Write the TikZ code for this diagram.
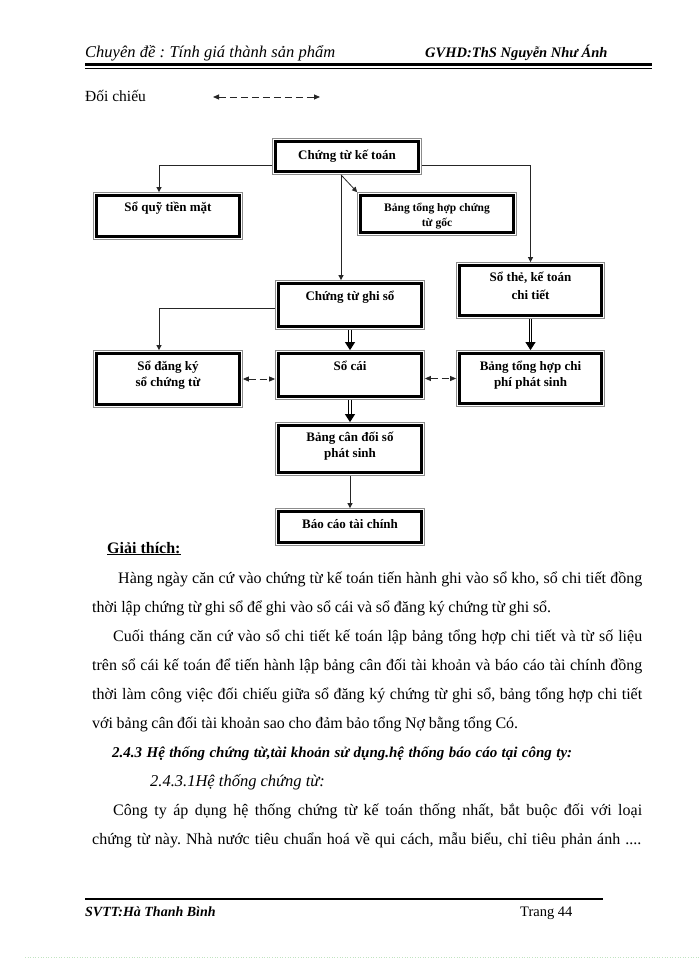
\documentclass[tikz,border=0pt]{standalone}
\usepackage{fontspec}
\setmainfont{Liberation Serif}
\usetikzlibrary{arrows.meta, positioning}
\frenchspacing

\tikzset{
    khung/.style={draw=black, line width=2.8pt, fill=white, outer sep=3.4pt,
        preaction={draw=black!45, line width=6.8pt},
        preaction={draw=white, line width=5.2pt}},
    nhan/.style={anchor=base, font=\fontsize{13}{15}\selectfont\bfseries, inner sep=0pt},
    nhannho/.style={anchor=base, font=\fontsize{11.5}{14}\selectfont\bfseries, inner sep=0pt},
    muiten/.style={draw=black!85, line width=0.8pt, -{Triangle[length=5pt, width=5pt]}},
    muitendoi/.style={draw=black, line width=0.9pt, double=white, double distance=1.4pt,
        -{Triangle[length=8pt, width=10pt]}},
    doichieu/.style={draw=black!85, line width=0.8pt, dash pattern=on 7pt off 4pt,
        {Triangle[length=6pt, width=5pt]}-{Triangle[length=6pt, width=5pt]}},
    dong/.style={anchor=base west, inner sep=0pt, font=\fontsize{16}{19}\selectfont}
}

\begin{document}
\begin{tikzpicture}[x=1pt, y=-1pt]
    \fill[white] (0,0) rectangle (700,960);
    \useasboundingbox (0,0) rectangle (700,960);

    % header and footer
    \node[anchor=base west, inner sep=0pt, font=\fontsize{16.5}{19}\selectfont\itshape] (chuyende) at (85,58)
        {\makebox[250pt][s]{Chuyên đề : Tính giá thành sản phẩm}};
    \node[anchor=base west, inner sep=0pt, font=\fontsize{14.5}{17}\selectfont\bfseries\itshape] (gvhd) at (425,58)
        {GVHD:ThS Nguyễn Như Ánh};
    \draw[line width=2.5pt] (85,64.5) -- (652,64.5);
    \draw[line width=0.7pt] (85,68) -- (652,68);
    \draw[line width=2.5pt] (85,899) -- (603,899);
    \node[anchor=base west, inner sep=0pt, font=\fontsize{14}{17}\selectfont\bfseries\itshape] (svtt) at (85,916)
        {SVTT:Hà Thanh Bình};
    \node[anchor=base west, inner sep=0pt, font=\fontsize{14.5}{17}\selectfont] (trang) at (520,916) {Trang 44};
    \draw[green!40!gray!35, line width=0.6pt, dotted] (25,957) -- (700,957);

    % chu thich
    \node[anchor=base west, inner sep=0pt, font=\fontsize{15.5}{18}\selectfont] (dc) at (85,102) {Đối chiếu};
    \coordinate (dcA) at (213,97);
    \coordinate (dcB) at (320,97);
    \draw[doichieu] (dcA) -- (dcB);

    % cac so, chung tu
    \node[khung, minimum width=143pt, minimum height=30pt,
        label={[nhan, yshift=-21.5pt]north:Chứng từ kế toán}] (ctkt) at (347,156.5) {};
    \node[khung, minimum width=143pt, minimum height=41pt,
        label={[nhan, yshift=-19.5pt]north:Sổ quỹ tiền mặt}] (sq) at (168,216) {};
    \node[khung, minimum width=153pt, minimum height=37pt,
        label={[nhannho, yshift=-19.5pt]north:Bảng tổng hợp chứng},
        label={[nhannho, yshift=-34.5pt]north:từ gốc}] (bthg) at (437,214) {};
    \node[khung, minimum width=142pt, minimum height=50pt,
        label={[nhan, yshift=-19.5pt]north:{Sổ thẻ, kế toán}},
        label={[nhan, yshift=-37.5pt]north:chi tiết}] (sthe) at (530.5,290.5) {};
    \node[khung, minimum width=143pt, minimum height=43pt,
        label={[nhan, yshift=-20.5pt]north:Chứng từ ghi sổ}] (ctgs) at (350,305) {};
    \node[khung, minimum width=143pt, minimum height=51pt,
        label={[nhan, yshift=-20.5pt]north:Sổ đăng ký},
        label={[nhan, yshift=-36.5pt]north:sổ chứng từ}] (sdk) at (168,379) {};
    \node[khung, minimum width=143pt, minimum height=43pt,
        label={[nhan, yshift=-20.5pt]north:Sổ cái}] (scai) at (350,375) {};
    \node[khung, minimum width=142pt, minimum height=50pt,
        label={[nhan, yshift=-20.5pt]north:Bảng tổng hợp chi},
        label={[nhan, yshift=-36.5pt]north:phí phát sinh}] (bthcp) at (530.5,378.5) {};
    \node[khung, minimum width=143pt, minimum height=47pt,
        label={[nhan, yshift=-19.5pt]north:Bảng cân đối số},
        label={[nhan, yshift=-35.5pt]north:phát sinh}] (bcd) at (350,449) {};
    \node[khung, minimum width=143pt, minimum height=31pt,
        label={[nhan, yshift=-20.5pt]north:Báo cáo tài chính}] (bctc) at (350,527) {};

    \draw[muiten] ([yshift=-8.5pt]ctkt.west) -| ([xshift=-9pt]sq.north);
    \draw[muiten] ([yshift=-8.5pt]ctkt.east) -| (sthe.north);
    \draw[muiten] ([xshift=-6pt]ctkt.south) -- ([xshift=-9pt]ctgs.north);
    \draw[muiten] ([xshift=-6pt]ctkt.south) -- (bthg.north west);
    \draw[muiten] ([yshift=-3pt]ctgs.west) -| ([xshift=-9pt]sdk.north);
    \draw[muitendoi] (ctgs.south) -- (scai.north);
    \draw[muitendoi] (scai.south) -- (bcd.north);
    \draw[muitendoi] (sthe.south) -- (bthcp.north);
    \draw[muiten] (bcd.south) -- (bctc.north);
    \draw[doichieu] (sdk.east) -- (sdk.east -| scai.west);
    \draw[doichieu] (bthcp.west -| scai.east) -- (bthcp.west);

    % giai thich
    \node[anchor=base west, inner sep=0pt, font=\fontsize{16}{19}\selectfont\bfseries] (gt) at (107,553)
        {\underline{Giải thích:}};
    \node[dong] (d1) at (118,583) {\makebox[524pt][s]{Hàng ngày căn cứ vào chứng từ kế toán tiến hành ghi vào sổ kho, sổ chi tiết đồng}};
    \node[dong] (d2) at (92,612) {\makebox[459pt][s]{thời lập chứng từ ghi sổ để ghi vào sổ cái và sổ đăng ký chứng từ ghi sổ.}};
    \node[dong] (d3) at (113,641) {\makebox[529pt][s]{Cuối tháng căn cứ vào sổ chi tiết kế toán lập bảng tổng hợp chi tiết và từ số liệu}};
    \node[dong] (d4) at (92,670) {\makebox[550pt][s]{trên sổ cái kế toán để tiến hành lập bảng cân đối tài khoản và báo cáo tài chính đồng}};
    \node[dong] (d5) at (92,699) {\makebox[550pt][s]{thời làm công việc đối chiếu giữa sổ đăng ký chứng từ ghi sổ, bảng tổng hợp chi tiết}};
    \node[dong] (d6) at (92,728) {\makebox[426pt][s]{với bảng cân đối tài khoản sao cho đảm bảo tổng Nợ bằng tổng Có.}};
    \node[anchor=base west, inner sep=0pt, font=\fontsize{15}{18}\selectfont\bfseries\itshape] (muc) at (112,757)
        {\makebox[460pt][s]{2.4.3 Hệ thống chứng từ,tài khoản sử dụng.hệ thống báo cáo tại công ty:}};
    \node[anchor=base west, inner sep=0pt, font=\fontsize{16.5}{19}\selectfont\itshape] (muccon) at (150,786)
        {2.4.3.1Hệ thống chứng từ:};
    \node[dong] (d7) at (113,815) {\makebox[529pt][s]{Công ty áp dụng hệ thống chứng từ kế toán thống nhất, bắt buộc đối với loại}};
    \node[dong] (d8) at (92,844) {\makebox[549pt][s]{chứng từ này. Nhà nước tiêu chuẩn hoá về qui cách, mẫu biểu, chỉ tiêu phản ánh ....}};
\end{tikzpicture}
\end{document}
